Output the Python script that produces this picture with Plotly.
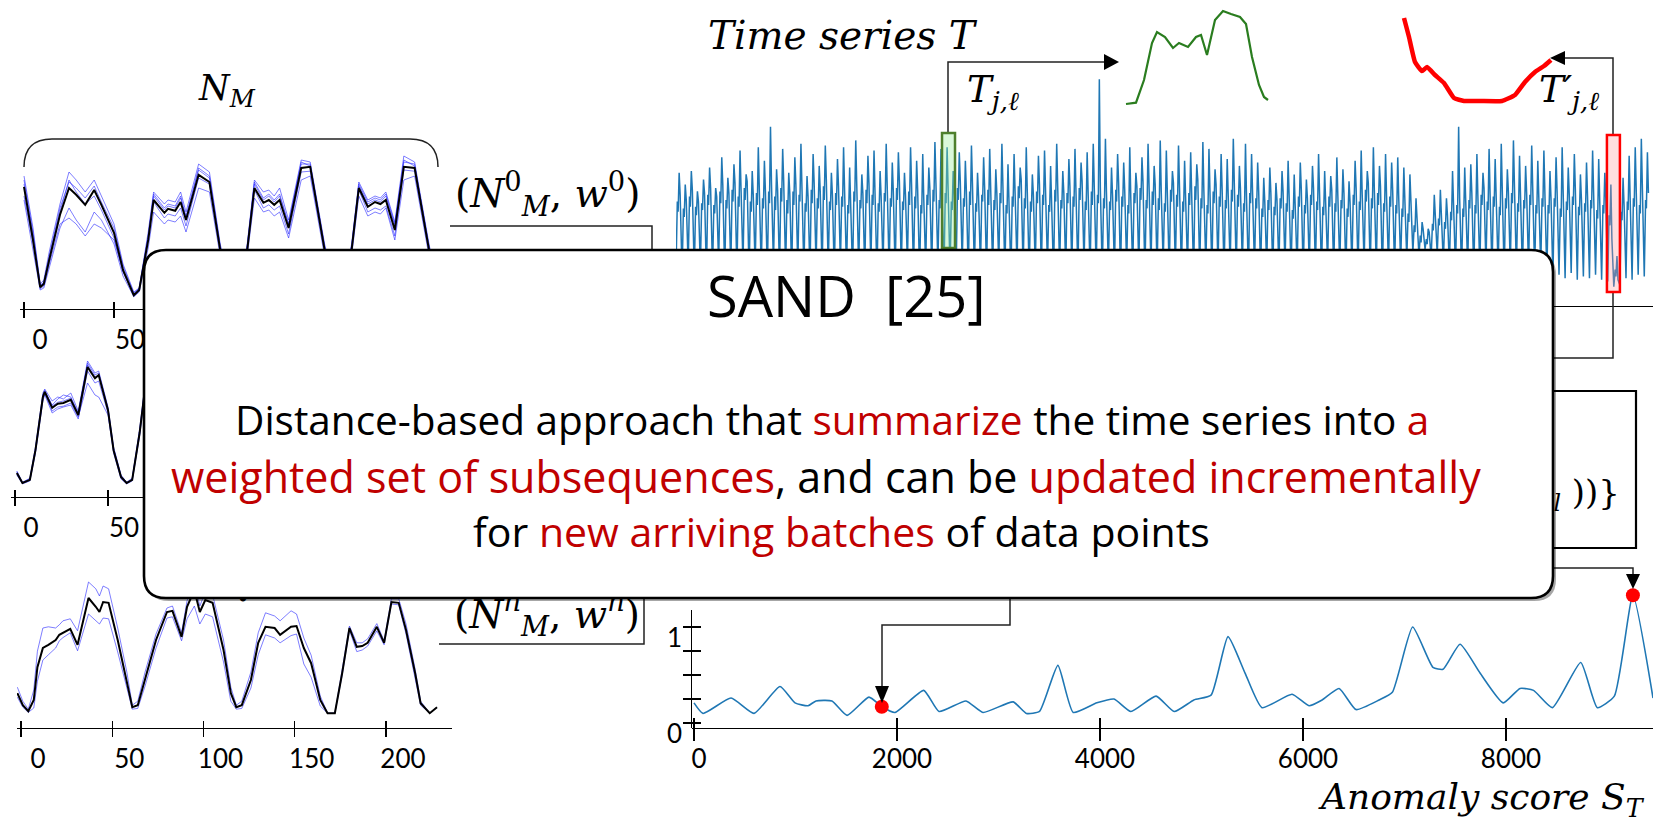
import plotly.graph_objects as go

# ================= DATA =================
# Left panel 1 : normal-model subsequences N_M^0 (sample index, mean in black, members in blue)
n0_idx = [0, 5, 9, 11, 14, 20, 25, 29, 34, 39, 43, 50, 55, 61, 64, 69, 72, 78, 80, 84, 87, 90, 97, 103, 109,
          113, 117, 121, 124, 128, 133, 136, 139, 142, 147, 154, 159, 167, 172, 177, 182, 186, 191, 195, 198,
          201, 206, 211, 217, 225, 230]
n0_mean = [1.33, 0.0, -1.18, -1.1, -0.5, 0.63, 1.3, 1.13, 0.88, 1.25, 0.88, 0.18, -0.75, -1.38, -1.25, 0.0, 1.0,
           0.68, 0.78, 0.73, 0.95, 0.5, 1.63, 1.45, -0.25, -1.0, -1.3, -1.0, -0.25, 1.3, 0.93, 1.0, 0.88, 1.0,
           0.3, 1.8, 1.83, -0.25, -1.2, -1.25, -0.25, 1.3, 0.83, 0.95, 0.9, 1.0, 0.25, 1.83, 1.8, -0.25, -1.25]
n0_member_a = [1.6, 0.3, -1.1, -1.0, -0.3, 0.9, 1.7, 1.5, 1.2, 1.5, 1.1, 0.4, -0.6, -1.3, -1.2, 0.2, 1.2, 0.9, 1.0,
               0.95, 1.2, 0.7, 1.9, 1.7, -0.1, -0.9, -1.25, -0.9, -0.1, 1.5, 1.2, 1.25, 1.1, 1.3, 0.5, 2.0, 1.95,
               -0.1, -1.1, -1.2, -0.1, 1.45, 1.0, 1.1, 1.05, 1.2, 0.45, 2.1, 1.95, -0.1, -1.2]
n0_member_b = [1.0, -0.2, -1.25, -1.2, -0.7, 0.3, 0.8, 0.5, 0.2, 0.7, 0.5, -0.1, -0.9, -1.42, -1.3, -0.2, 0.7, 0.4,
               0.5, 0.45, 0.6, 0.2, 1.3, 1.2, -0.4, -1.1, -1.35, -1.1, -0.4, 1.05, 0.7, 0.75, 0.6, 0.7, 0.05, 1.5,
               1.6, -0.4, -1.25, -1.3, -0.4, 1.1, 0.6, 0.7, 0.65, 0.8, 0.0, 1.5, 1.6, -0.4, -1.3]
n0_member_c = [1.4, 0.1, -1.15, -1.05, -0.45, 0.7, 1.5, 1.2, 0.9, 1.1, 0.75, 0.05, -0.8, -1.35, -1.22, 0.05, 1.1,
               0.75, 0.85, 0.8, 1.05, 0.6, 1.75, 1.55, -0.2, -0.95, -1.28, -0.95, -0.2, 1.4, 1.0, 1.1, 0.95, 1.1,
               0.4, 1.9, 1.9, -0.2, -1.15, -1.22, -0.2, 1.35, 0.9, 1.0, 0.95, 1.1, 0.35, 1.95, 1.9, -0.2, -1.22]
n0_member_d = [1.5, 0.2, -1.12, -1.08, -0.4, 0.8, 1.45, 1.3, 1.05, 1.35, 0.95, 0.3, -0.65, -1.33, -1.2, 0.1, 1.15,
               0.8, 0.9, 0.85, 1.1, 0.55, 1.8, 1.6, -0.15, -0.92, -1.26, -0.92, -0.15, 1.45, 1.05, 1.15, 1.0, 1.15,
               0.4, 1.95, 1.85, -0.15, -1.12, -1.2, -0.15, 1.4, 0.95, 1.05, 1.0, 1.15, 0.4, 2.0, 1.85, -0.15, -1.2]
n0_member_e = [1.1, -0.05, -1.22, -1.15, -0.6, 0.4, 0.55, 0.4, 0.1, 0.4, 0.3, 0.0, -0.78, -1.4, -1.27, 0.0, 0.95,
               0.55, 0.65, 0.6, 0.8, 0.35, 1.55, 1.4, -0.28, -1.02, -1.3, -1.02, -0.28, 1.25, 0.8, 0.88, 0.75, 0.85,
               0.15, 1.7, 1.72, -0.28, -1.18, -1.25, -0.28, 1.25, 0.7, 0.8, 0.75, 0.85, 0.1, 1.75, 1.72, -0.28, -1.25]

# Left panel 2 : N_M^1
n1_idx = [1, 4, 8, 11, 15, 16, 20, 23, 26, 30, 34, 39, 43, 45, 50, 53, 57, 60, 63, 67, 70, 74, 80, 86, 92, 98]
n1_mean = [-1.05, -1.3, -1.22, -0.48, 0.85, 0.98, 0.58, 0.68, 0.7, 0.78, 0.4, 1.6, 1.32, 1.4, 0.52, -0.48, -1.15,
           -1.3, -1.22, -0.05, 1.1, 1.0, 0.9, 1.3, -0.5, -1.3]
n1_member_a = [-1.0, -1.28, -1.18, -0.4, 0.95, 1.05, 0.75, 0.85, 0.8, 0.95, 0.5, 1.75, 1.45, 1.5, 0.6, -0.4, -1.1,
               -1.28, -1.18, 0.05, 1.2, 1.1, 1.0, 1.4, -0.4, -1.28]
n1_member_b = [-1.1, -1.32, -1.25, -0.55, 0.75, 0.9, 0.45, 0.55, 0.6, 0.65, 0.3, 1.5, 1.2, 1.25, 0.45, -0.55, -1.2,
               -1.32, -1.25, -0.12, 1.0, 0.9, 0.8, 1.2, -0.6, -1.32]
n1_member_c = [-1.02, -1.3, -1.2, -0.45, 0.88, 1.0, 0.65, 0.8, 0.9, 0.85, 0.45, 1.65, 1.35, 1.38, 0.55, -0.45, -1.12,
               -1.3, -1.2, 0.0, 1.15, 1.05, 0.95, 1.35, -0.45, -1.3]
n1_member_d = [-1.08, -1.31, -1.23, -0.52, 0.8, 0.95, 0.5, 0.6, 0.62, 0.7, 0.35, 1.2, 0.9, 0.85, 0.4, -0.5, -1.17,
               -1.31, -1.23, -0.08, 1.05, 0.95, 0.85, 1.25, -0.55, -1.31]
n1_member_e = [-1.04, -1.29, -1.21, -0.46, 0.9, 1.02, 0.62, 0.72, 0.75, 0.82, 0.42, 1.7, 1.4, 1.45, 0.55, -0.46,
               -1.13, -1.29, -1.21, -0.03, 1.12, 1.02, 0.92, 1.32, -0.48, -1.29]

# Left panel 3 : N_M^n
nn_idx = [-2, 1, 4, 7, 9, 12, 15, 19, 21, 23, 27, 31, 37, 41, 43, 45, 48, 53, 58, 61, 64, 68, 74, 80, 83, 88, 91,
          95, 98, 101, 105, 111, 115, 118, 121, 126, 130, 134, 139, 142, 148, 151, 155, 159, 164, 168, 172, 176,
          180, 184, 187, 190, 195, 199, 203, 207, 211, 216, 219, 224, 228]
nn_mean = [-0.83, -1.13, -1.28, -1.0, -0.18, 0.3, 0.38, 0.5, 0.63, 0.68, 0.78, 0.38, 1.55, 1.33, 1.2, 1.45, 1.43,
           0.5, -0.5, -1.18, -1.13, -0.5, 0.5, 1.2, 1.23, 0.58, 1.33, 1.75, 1.2, 1.5, 1.43, 0.25, -0.83, -1.18,
           -1.13, -0.5, 0.43, 0.83, 0.8, 0.63, 0.83, 0.85, 0.3, -0.08, -1.0, -1.33, -1.33, -0.33, 0.8, 0.33, 0.35,
           0.43, 0.83, 0.43, 1.45, 1.43, 0.75, -0.33, -1.08, -1.33, -1.18]
nn_member_upper = [-0.68, -1.03, -1.23, -0.75, 0.22, 0.8, 0.83, 0.8, 0.88, 0.98, 1.03, 0.73, 1.95, 1.78, 1.6,
                   1.85, 1.78, 0.8, -0.3, -1.13, -1.03, -0.3, 0.65, 1.3, 1.35, 0.68, 1.48, 1.95, 1.35, 1.7, 1.63,
                   0.5, -0.68, -1.13, -1.03, -0.3, 0.68, 1.18, 1.1, 0.98, 1.23, 1.15, 0.55, 0.12, -0.9, -1.33,
                   -1.33, -0.28, 0.85, 0.43, 0.43, 0.53, 0.91, 0.48, 1.53, 1.53, 0.9, -0.23, -1.03, -1.33, -1.18]
nn_member_lower = [-0.93, -1.18, -1.31, -1.2, -0.53, 0.0, 0.13, 0.3, 0.48, 0.56, 0.68, 0.23, 1.15, 0.98, 0.9,
                   1.05, 1.03, 0.2, -0.7, -1.23, -1.21, -0.65, 0.3, 1.05, 1.08, 0.48, 1.03, 1.35, 0.9, 1.15, 1.08,
                   -0.05, -1.03, -1.23, -1.21, -0.7, 0.13, 0.63, 0.55, 0.43, 0.61, 0.65, -0.1, -0.43, -1.15, -1.33,
                   -1.33, -0.38, 0.75, 0.21, 0.25, 0.35, 0.73, 0.38, 1.4, 1.38, 0.65, -0.41, -1.13, -1.33, -1.18]
left_ticks = [0, 50, 100, 150, 200]

# Time series T : one entry per cycle (trough, rise, plateau dip, spike, post-spike plateau)
CYCLE = 60
ts_low = [1.2, 0.9, 1.4, 1.0, 1.3, 0.8, 1.1, 1.5, 0.9, 1.2,
          1.0, 1.4, 0.8, 1.3, 1.1, 0.9, 1.5, 1.0, 1.2, 0.8,
          1.3, 1.1, 0.9, 1.4, 1.0, 1.2, 0.8, 1.5, 1.1, 0.9,
          1.2, 1.0, 1.4, 0.8, 1.3, 1.1, 0.9, 1.2, 1.5, 1.0,
          0.8, 1.3, 1.1, 1.4, 0.9, 1.2, 1.0, 1.5, 0.8, 1.1,
          1.3, 0.9, 1.2, 1.4, 1.0, 0.8, 1.3, 1.1, 0.9, 1.2,
          1.0, 1.4, 0.8, 1.2, 1.1, 1.3, 0.9, 1.5, 1.0, 1.2,
          0.9, 1.3, 1.1, 0.8, 1.4, 1.0, 1.2, 0.9, 1.3, 1.1,
          1.5, 0.9, 1.2, 1.0, 1.3, 0.8, 1.1, 1.4, 1.0, 1.2,
          0.9, 1.3, 1.1, 1.4, 0.8, 1.2, 1.0, 1.3, 0.9, 1.1,
          1.4, 1.0, 1.2, 0.8, 1.3, 1.1, 0.9, 1.5, 1.0, 1.2,
          0.9, 1.3, 1.1, 1.4, 1.0, 1.2, 0.8, 1.3, 1.1, 1.5,
          1.8, 2.2, 2.0, 2.4, 1.9, 2.1, 1.6, 1.4, 1.2, 1.0,
          1.3, 0.9, 1.1, 1.4, 1.0, 1.2, 0.8, 1.3, 1.1, 0.9,
          1.2, 1.0, 1.3, 0.8, 0.6, 0.9, 0.7, 1.0, 0.6, 0.8,
          0.7, 0.9, 0.6, 0.5, 0.2, 0.3, 0.7, 0.6, 0.9, 0.8]
ts_mid = [5.2, 4.8, 5.5, 4.9, 5.1,
          5.6, 5.0, 5.8, 5.3, 5.9, 5.5, 6.0, 5.2, 5.7, 5.4,
          5.8,
          5.5, 6.0, 5.3, 5.8, 5.6, 5.1, 5.9, 5.4, 6.1, 5.2, 5.7, 5.5, 5.0, 5.8, 5.3, 5.9, 5.6, 5.1, 5.7, 5.4,
          6.0, 5.2, 5.8, 5.5, 5.0, 5.6, 5.9, 5.3,
          5.7, 5.2, 6.0, 5.4, 5.8, 5.1, 5.6, 5.9, 5.3, 5.7, 5.0, 5.5, 6.1, 5.4, 5.2, 5.8, 5.6, 5.0, 5.9, 5.3,
          5.7, 5.5, 6.0, 5.2, 5.8, 5.6,
          5.4,
          5.2, 5.9, 5.5, 5.0, 5.7, 6.0, 5.3, 5.8, 5.4, 5.1, 5.9, 5.6, 5.2, 5.7, 6.1, 5.4, 5.0, 5.8, 5.5, 5.3,
          5.9, 5.6, 5.1, 5.7, 5.4,
          4.8, 5.3, 4.9, 5.4, 5.1, 4.7, 5.5, 5.0, 5.6, 5.2, 4.9, 5.5, 5.1, 5.3, 4.8,
          5.6, 5.2, 5.9, 5.4, 5.7, 5.1, 5.5, 5.0, 4.8,
          4.5, 3.8, 3.2, 3.0, 3.9, 4.2, 4.0, 4.6, 5.0, 4.8,
          5.3, 5.0, 5.6, 5.2, 5.5, 4.9, 5.4, 5.7, 5.1, 5.3, 5.6, 5.0, 5.4,
          5.0, 5.4, 4.8, 5.2, 5.5, 4.9, 5.1, 5.3, 4.7, 5.0, 4.4, 1.2, 4.6, 5.2, 5.4, 5.0, 5.3]
ts_dip = [4.6, 4.3, 4.9, 4.4, 4.7, 5.0, 4.5, 5.1, 4.8, 5.2,
          4.9, 5.3, 4.6, 5.0, 4.8, 5.1, 4.7, 5.2, 4.5, 5.0,
          5.2, 4.6, 5.1, 4.8, 5.3, 4.7, 5.0, 4.9, 4.5, 5.2,
          4.8, 5.1, 5.0, 4.6, 5.2, 4.9, 5.3, 4.7, 5.0, 4.8,
          4.5, 5.0, 5.2, 4.8, 5.1, 4.7, 5.3, 4.9, 5.0, 4.6,
          5.2, 5.0, 4.7, 5.1, 4.5, 4.9, 5.4, 4.8, 4.6, 5.1,
          5.0, 4.6, 5.2, 4.8, 5.1, 4.9, 5.3, 4.7, 5.0, 5.1,
          4.8, 4.7, 5.2, 4.9, 4.5, 5.1, 5.3, 4.8, 5.0, 4.7,
          4.6, 5.2, 4.9, 4.6, 5.0, 5.3, 4.8, 4.5, 5.1, 4.9,
          4.8, 5.2, 4.9, 4.6, 5.1, 4.8, 4.3, 4.7, 4.4, 4.8,
          4.6, 4.2, 4.9, 4.5, 5.0, 4.7, 4.4, 4.9, 4.6, 4.8,
          4.3, 5.0, 4.7, 5.2, 4.8, 5.0, 4.6, 4.9, 4.5, 4.3,
          4.0, 3.4, 2.8, 2.7, 3.5, 3.8, 3.6, 4.1, 4.5, 4.3,
          4.8, 4.5, 5.0, 4.7, 4.9, 4.4, 4.8, 5.1, 4.6, 4.8,
          5.0, 4.5, 4.9, 4.5, 4.9, 4.3, 4.7, 5.0, 4.4, 4.6,
          4.8, 4.2, 4.5, 3.8, 0.8, 4.1, 4.7, 4.9, 4.5, 4.8]
ts_peak = [6.9, 6.2, 7.0, 5.8, 6.5,
           7.2, 6.0, 7.8, 6.6, 7.4, 8.2, 6.8, 7.0, 8.4, 7.6,
           9.6,
           7.1, 8.3, 6.9, 7.8, 8.6, 6.7, 8.0, 7.3, 8.5, 6.9, 7.7, 8.4, 7.2, 8.8, 6.8, 7.9, 8.2, 7.0, 8.6, 7.5,
           8.1, 6.9, 8.4, 7.6, 8.0, 7.2, 8.7, 8.3,
           8.4, 7.0, 8.1, 7.6, 8.5, 6.9, 7.8, 8.3, 7.1, 8.6, 7.4, 8.0, 7.2, 8.4, 6.8, 7.9, 8.2, 7.3, 8.6, 7.0,
           7.7, 8.3, 7.5, 8.1, 8.6, 12.4,
           8.9,
           7.2, 8.0, 7.5, 8.4, 6.9, 7.8, 8.6, 7.3, 8.8, 8.2, 7.0, 8.5, 7.6, 8.1, 7.4, 8.7, 8.3, 7.1, 8.0, 7.7,
           8.9, 7.3, 8.6, 8.0, 7.5,
           6.6, 7.2, 6.3, 7.0, 7.6, 6.8, 7.5, 6.5, 7.3, 8.0, 7.0, 6.7, 7.8, 7.1, 6.4,
           7.6, 8.2, 7.0, 8.4, 7.3, 8.0, 7.5, 7.8, 7.2,
           6.8, 5.4, 4.0, 3.6, 5.6, 5.9, 5.4, 7.0, 9.6, 7.2,
           7.4, 8.0, 6.9, 8.3, 7.7, 8.6, 7.1, 8.8, 7.9, 7.3, 8.5, 7.6, 8.2,
           7.0, 7.8, 8.4, 7.2, 8.0, 6.8, 7.5, 8.2, 7.7, 6.9, 6.2, 2.0, 6.6, 7.9, 8.4, 8.9, 8.1]
ts_mid2 = [5.6, 5.3, 5.9, 5.2, 5.7,
           6.0, 5.5, 6.2, 5.7, 6.3, 5.9, 6.4, 5.6, 6.1, 5.8,
           6.2,
           5.9, 6.4, 5.7, 6.2, 6.0, 5.5, 6.3, 5.8, 6.5, 5.6, 6.1, 5.9, 5.4, 6.2, 5.7, 6.3, 6.0, 5.5, 6.1, 5.8,
           6.4, 5.6, 6.2, 5.9, 5.4, 6.0, 6.3, 5.7,
           6.1, 5.6, 6.4, 5.8, 6.2, 5.5, 6.0, 6.3, 5.7, 6.1, 5.4, 5.9, 6.5, 5.8, 5.6, 6.2, 6.0, 5.4, 6.3, 5.7,
           6.1, 5.9, 6.4, 5.6, 6.2, 6.0,
           5.8,
           5.6, 6.3, 5.9, 5.4, 6.1, 6.4, 5.7, 6.2, 5.8, 5.5, 6.3, 6.0, 5.6, 6.1, 6.5, 5.8, 5.4, 6.2, 5.9, 5.7,
           6.3, 6.0, 5.5, 6.1, 5.8,
           5.2, 5.7, 5.3, 5.8, 5.5, 5.1, 5.9, 5.4, 6.0, 5.6, 5.3, 5.9, 5.5, 5.7, 5.2,
           6.0, 5.6, 6.3, 5.8, 6.1, 5.5, 5.9, 5.4, 5.2,
           4.9, 4.2, 3.6, 3.4, 4.3, 4.6, 4.4, 5.0, 5.4, 5.2,
           5.7, 5.4, 6.0, 5.6, 5.9, 5.3, 5.8, 6.1, 5.5, 5.7, 6.0, 5.4, 5.8,
           5.4, 5.8, 5.2, 5.6, 5.9, 5.3, 5.5, 5.7, 5.1, 5.4, 3.0, 0.6, 5.0, 5.6, 5.8, 5.4, 5.7]
green_window = [2621, 2749]     # T_{j,l}  (sample range)
red_window = [9172, 9300]       # T'_{j,l} (sample range)

# Extracted subsequences
green_idx = [0, 10, 18, 26, 31, 39, 47, 53, 62, 70, 75, 81, 89, 97, 105, 114, 120, 126, 133, 138, 142]
green_val = [0.1, 0.23, 2.5, 6.2, 7.3, 6.8, 5.7, 6.2, 5.8, 6.8, 7.0, 5.0, 8.5, 9.4, 9.1, 8.8, 8.1, 4.8, 2.0, 0.8, 0.5]
red_idx = [0, 5, 11, 18, 23, 31, 40, 50, 60, 76, 98, 111, 121, 131, 140, 147]
red_val = [8.7, 6.8, 4.3, 3.4, 3.8, 3.0, 2.2, 0.7, 0.4, 0.4, 0.4, 1.0, 2.3, 3.3, 3.9, 4.5]

# Anomaly score S_T
score_x = [0, 89, 365, 591, 847, 995, 1123, 1202, 1359, 1508, 1724, 1852, 1980, 2263, 2414, 2680, 2847, 3144,
           3275, 3404, 3585, 3736, 3969, 4138, 4304, 4552, 4731, 4925, 5094, 5261, 5429, 5596, 5892, 6059, 6188,
           6355, 6522, 6750, 6880, 7080, 7280, 7380, 7547, 7744, 7972, 8138, 8271, 8457, 8736, 8899, 9067, 9250,
           9448]
score_y = [0.21, 0.10, 0.26, 0.10, 0.38, 0.21, 0.18, 0.23, 0.23, 0.08, 0.27, 0.17, 0.11, 0.34, 0.12, 0.23, 0.11,
           0.22, 0.10, 0.12, 0.60, 0.11, 0.21, 0.25, 0.12, 0.28, 0.12, 0.24, 0.29, 0.90, 0.52, 0.16, 0.30, 0.18,
           0.24, 0.36, 0.14, 0.24, 0.32, 1.0, 0.58, 0.56, 0.82, 0.52, 0.21, 0.36, 0.34, 0.16, 0.63, 0.16, 0.28,
           1.33, 0.26]
hit_x = [1850, 9250]
hit_y = [0.17, 1.33]
score_xticks = [0, 2000, 4000, 6000, 8000]
score_yticks = [0, 0.25, 0.5, 0.75, 1]

# ================= FIGURE =================
W, H = 1653, 822
SANS = "Lato"
BODY = "Open Sans"
MATH = "DejaVu Serif"
RED_TXT = "#c00000"
TS_BLUE = "#1f77b4"
MEMBER = "rgba(40,40,255,0.6)"


def dx(a, b):
    return [a / W, b / W]


def dy(top, bottom):
    return [1 - bottom / H, 1 - top / H]


fig = go.Figure()


def line(x, y, xa, ya, color, width, **kw):
    fig.add_trace(go.Scatter(x=x, y=y, mode="lines", line=dict(color=color, width=width, **kw),
                             xaxis=xa, yaxis=ya, hoverinfo="skip", showlegend=False))


for m in [n0_member_a, n0_member_b, n0_member_c, n0_member_d, n0_member_e]:
    line(n0_idx, m, "x", "y", MEMBER, 1)
line(n0_idx, n0_mean, "x", "y", "black", 2)

for m in [n1_member_a, n1_member_b, n1_member_c, n1_member_d, n1_member_e]:
    line(n1_idx, m, "x2", "y2", MEMBER, 1)
line(n1_idx, n1_mean, "x2", "y2", "black", 2)

for m in [nn_member_upper, nn_member_lower]:
    line(nn_idx, m, "x3", "y3", MEMBER, 1)
line(nn_idx, nn_mean, "x3", "y3", "black", 2)

# time series, assembled cycle by cycle
ts_x, ts_y = [], []
for c, vals in enumerate(zip(ts_low, ts_mid, ts_dip, ts_peak, ts_mid2)):
    b = c * CYCLE
    ts_x += [b, b + 13, b + 21, b + 31, b + 41]
    ts_y += list(vals)
line(ts_x, ts_y, "x4", "y4", TS_BLUE, 1.5)

line(green_idx, green_val, "x5", "y5", "#2a7d1f", 2.2)
line(red_idx, red_val, "x6", "y6", "#ff0000", 4.5, shape="spline", smoothing=0.4)

line(score_x, score_y, "x7", "y7", TS_BLUE, 1.6, shape="spline", smoothing=0.5)
fig.add_trace(go.Scatter(x=hit_x, y=hit_y, mode="markers", marker=dict(color="#ff0000", size=14),
                         cliponaxis=False, xaxis="x7", yaxis="y7", hoverinfo="skip", showlegend=False))

# empty traces so the helper (tick) axes get drawn
for xa, ya in [("x8", "y"), ("x9", "y2"), ("x10", "y3"), ("x11", "y7"), ("x7", "y8"), ("x7", "y9")]:
    fig.add_trace(go.Scatter(x=[None], y=[None], xaxis=xa, yaxis=ya, showlegend=False, hoverinfo="skip"))

# labels that sit partly behind the overlay box (drawn as trace text so the box can cover them)
fig.add_trace(go.Scatter(
    x=[547, 1620, 243], y=[618, 495, 601], mode="text",
    text=["(<i>N</i><sup><i>n</i></sup><sub><i>M</i></sub>, <i>w</i><sup><i>n</i></sup>)",
          "<i>T</i><sub><i>x,l</i></sub> ))}", "•"],
    textposition=["middle center", "middle left", "middle center"],
    textfont=dict(family=MATH, size=[39, 34, 22], color="black"),
    xaxis="x12", yaxis="y10", hoverinfo="skip", showlegend=False, cliponaxis=False))

tickfont = dict(family=SANS, size=26, color="black")
noaxis = dict(visible=False, fixedrange=True)


def main_x(domain, rng, anchor, shift, ticklen=8, vals=left_ticks, standoff=-1):
    return dict(domain=domain, range=rng, anchor=anchor, showline=True, linecolor="black", linewidth=1.4,
                ticks="outside", ticklen=ticklen, tickwidth=1.4, tickcolor="black", tickvals=vals,
                tickfont=tickfont, ticklabelshift=shift, ticklabelstandoff=standoff, showgrid=False,
                zeroline=False)


def inner_x(over, rng, anchor, ticklen=7, vals=left_ticks):
    return dict(overlaying=over, anchor=anchor, range=rng, ticks="inside", ticklen=ticklen, tickwidth=1.4,
                tickcolor="black", tickvals=vals, showticklabels=False, showline=False, showgrid=False,
                zeroline=False)


r1, r2, r3 = [-2.22, 231.1], [-2.15, 228.5], [-2.19, 236.2]
r7 = [-19.7, 9448]
ry8 = [-0.052, 1.177]

fig.update_layout(
    width=W, height=H, margin=dict(l=0, r=0, t=0, b=0),
    paper_bgcolor="white", plot_bgcolor="rgba(0,0,0,0)", showlegend=False,
    xaxis=main_x(dx(20, 440), r1, "y", 16),
    yaxis=dict(domain=dy(140, 309), range=[-1.725, 2.5], **noaxis),
    xaxis8=inner_x("x", r1, "y"),
    xaxis2=main_x(dx(11, 440), r2, "y2", 16),
    yaxis2=dict(domain=dy(355, 497), range=[-1.65, 1.9], **noaxis),
    xaxis9=inner_x("x2", r2, "y2"),
    xaxis3=main_x(dx(17, 452), r3, "y3", 17),
    yaxis3=dict(domain=dy(565, 728), range=[-1.7, 2.375], **noaxis),
    xaxis10=inner_x("x3", r3, "y3"),
    xaxis4=dict(domain=dx(676, 1653), range=[0, 9626], anchor="y4", showline=True, linecolor="black",
                linewidth=1, showticklabels=False, ticks="", showgrid=False, zeroline=False),
    yaxis4=dict(domain=dy(70, 306), range=[-0.94, 12.94], anchor="x4", **noaxis),
    xaxis5=dict(domain=dx(1120, 1275), range=[-6, 149], anchor="y5", **noaxis),
    yaxis5=dict(domain=dy(5, 110), range=[-0.5, 10], anchor="x5", **noaxis),
    xaxis6=dict(domain=dx(1398, 1556), range=[-6, 152], anchor="y6", **noaxis),
    yaxis6=dict(domain=dy(5, 110), range=[-0.5, 10], anchor="x6", **noaxis),
    xaxis7=main_x(dx(692, 1653), r7, "y7", 5, ticklen=12, vals=score_xticks, standoff=-5),
    yaxis7=dict(domain=dy(585, 728), range=[-0.052, 1.4375], anchor="x7", **noaxis),
    xaxis11=inner_x("x7", r7, "y7", ticklen=10, vals=score_xticks),
    yaxis8=dict(domain=dy(610, 728), range=ry8, anchor="x7", showline=True, linecolor="black", linewidth=1.4,
                ticks="outside", ticklen=8, tickwidth=1.4, tickcolor="black", tickvals=score_yticks,
                showticklabels=False, showgrid=False, zeroline=False),
    yaxis9=dict(overlaying="y8", anchor="x7", range=ry8, ticks="inside", ticklen=9, tickwidth=1.4,
                tickcolor="black", tickvals=score_yticks, showticklabels=False, showline=False,
                showgrid=False, zeroline=False),
    xaxis12=dict(domain=[0, 1], range=[0, W], anchor="y10", **noaxis),
    yaxis10=dict(domain=[0, 1], range=[H, 0], anchor="x12", **noaxis),
)

P = dict(xref="x12", yref="y10", layer="above")
thin = dict(color="#222222", width=1.5)
shapes = [
    dict(type="path", path="M 24,167 Q 24,139 52,139 L 410,139 Q 438,139 438,167", line=thin, **P),
    dict(type="path", path="M 450,226 L 652,226 L 652,252", line=thin, **P),
    dict(type="path", path="M 439,644 L 644,644 L 644,596", line=thin, **P),
    dict(type="path", path="M 948,133 L 948,62 L 1106,62", line=thin, **P),
    dict(type="path", path="M 1104,54 L 1119,62 L 1104,70 Z", fillcolor="black", line=dict(width=0), **P),
    dict(type="path", path="M 1613,135 L 1613,58 L 1563,58", line=thin, **P),
    dict(type="path", path="M 1565,51 L 1550,58 L 1565,65 Z", fillcolor="black", line=dict(width=0), **P),
    dict(type="path", path="M 1613,292 L 1613,358 L 1540,358", line=thin, **P),
    dict(type="path", path="M 1540,391 L 1636,391 L 1636,548 L 1540,548", line=dict(color="black", width=2.2), **P),
    dict(type="path", path="M 1540,568 L 1633,568 L 1633,576", line=thin, **P),
    dict(type="path", path="M 1626,574 L 1640,574 L 1633,589 Z", fillcolor="black", line=dict(width=0), **P),
    dict(type="path", path="M 1010,590 L 1010,625 L 882,625 L 882,688", line=thin, **P),
    dict(type="path", path="M 875,686 L 889,686 L 882,703 Z", fillcolor="black", line=dict(width=0), **P),
    dict(type="rect", xref="x4", yref="y4", x0=green_window[0], x1=green_window[1], y0=2.47, y1=9.24,
         fillcolor="rgba(150,235,150,0.35)", line=dict(color="#4e7f2c", width=2.5), layer="above"),
    dict(type="rect", xref="x4", yref="y4", x0=red_window[0], x1=red_window[1], y0=-0.12, y1=9.12,
         fillcolor="rgba(255,150,150,0.3)", line=dict(color="#ff0000", width=2.5), layer="above"),
    # soft shadow + the overlay call-out box
    dict(type="path",
         path="M 169,253 L 1534,253 Q 1556,253 1556,275 L 1556,579 Q 1556,601 1534,601 L 169,601 "
              "Q 147,601 147,579 L 147,275 Q 147,253 169,253 Z",
         fillcolor="rgba(0,0,0,0.35)", line=dict(width=0), **P),
    dict(type="path",
         path="M 166,250 L 1531,250 Q 1553,250 1553,272 L 1553,576 Q 1553,598 1531,598 L 166,598 "
              "Q 144,598 144,576 L 144,272 Q 144,250 166,250 Z",
         fillcolor="white", line=dict(color="black", width=2.6), **P),
]
fig.update_layout(shapes=shapes)

A = dict(xref="x12", yref="y10", showarrow=False, xanchor="center", yanchor="middle")
mathfont = lambda s: dict(family=MATH, size=s, color="black")
annotations = [
    dict(x=227, y=90, text="<i>N</i><sub><i>M</i></sub>", font=mathfont(35), **A),
    dict(x=547, y=194, text="(<i>N</i><sup>0</sup><sub><i>M</i></sub>, <i>w</i><sup>0</sup>)", font=mathfont(39), **A),
    dict(x=843, y=35, text="<i>Time series T</i>", font=mathfont(39), **A),
    dict(x=993, y=92, text="<i>T</i><sub><i>j,ℓ</i></sub>", font=mathfont(37), **A),
    dict(x=1569, y=92, text="<i>T′</i><sub><i>j,ℓ</i></sub>", font=mathfont(37), **A),
    dict(x=1647, y=799, text="<i>Anomaly score S</i><sub><i>T</i></sub>", font=mathfont(36),
         xref="x12", yref="y10", showarrow=False, xanchor="right", yanchor="middle"),
    dict(x=684, y=637, text="1", font=tickfont, xref="x12", yref="y10", showarrow=False,
         xanchor="right", yanchor="middle"),
    dict(x=684, y=733, text="0", font=tickfont, xref="x12", yref="y10", showarrow=False,
         xanchor="right", yanchor="middle"),
    dict(x=846, y=295, text="SAND\u00a0 [25]", font=dict(family=BODY, size=56, color="black"), **A),
    dict(x=832, y=419, text="Distance-based approach that <span style='color:%s'>summarize</span> the time series "
                            "into <span style='color:%s'>a</span>" % (RED_TXT, RED_TXT),
         font=dict(family=BODY, size=40.5, color="black"), **A),
    dict(x=826, y=476, text="<span style='color:%s'>weighted set of subsequences</span>, and can be "
                            "<span style='color:%s'>updated incrementally</span>" % (RED_TXT, RED_TXT),
         font=dict(family=BODY, size=43, color="black"), **A),
    dict(x=841, y=531, text="for <span style='color:%s'>new arriving batches</span> of data points" % RED_TXT,
         font=dict(family=BODY, size=41, color="black"), **A),
]
fig.update_layout(annotations=annotations)

fig.write_html(
    "out.html",
    config={"displayModeBar": False, "staticPlot": True},
    post_script=("document.documentElement.style.margin='0';document.body.style.margin='0';"
                 "document.body.style.padding='0';document.body.style.overflow='hidden';"
                 "var d=document.getElementById('{plot_id}');d.style.position='absolute';"
                 "d.style.left='0px';d.style.top='0px';"),
)
